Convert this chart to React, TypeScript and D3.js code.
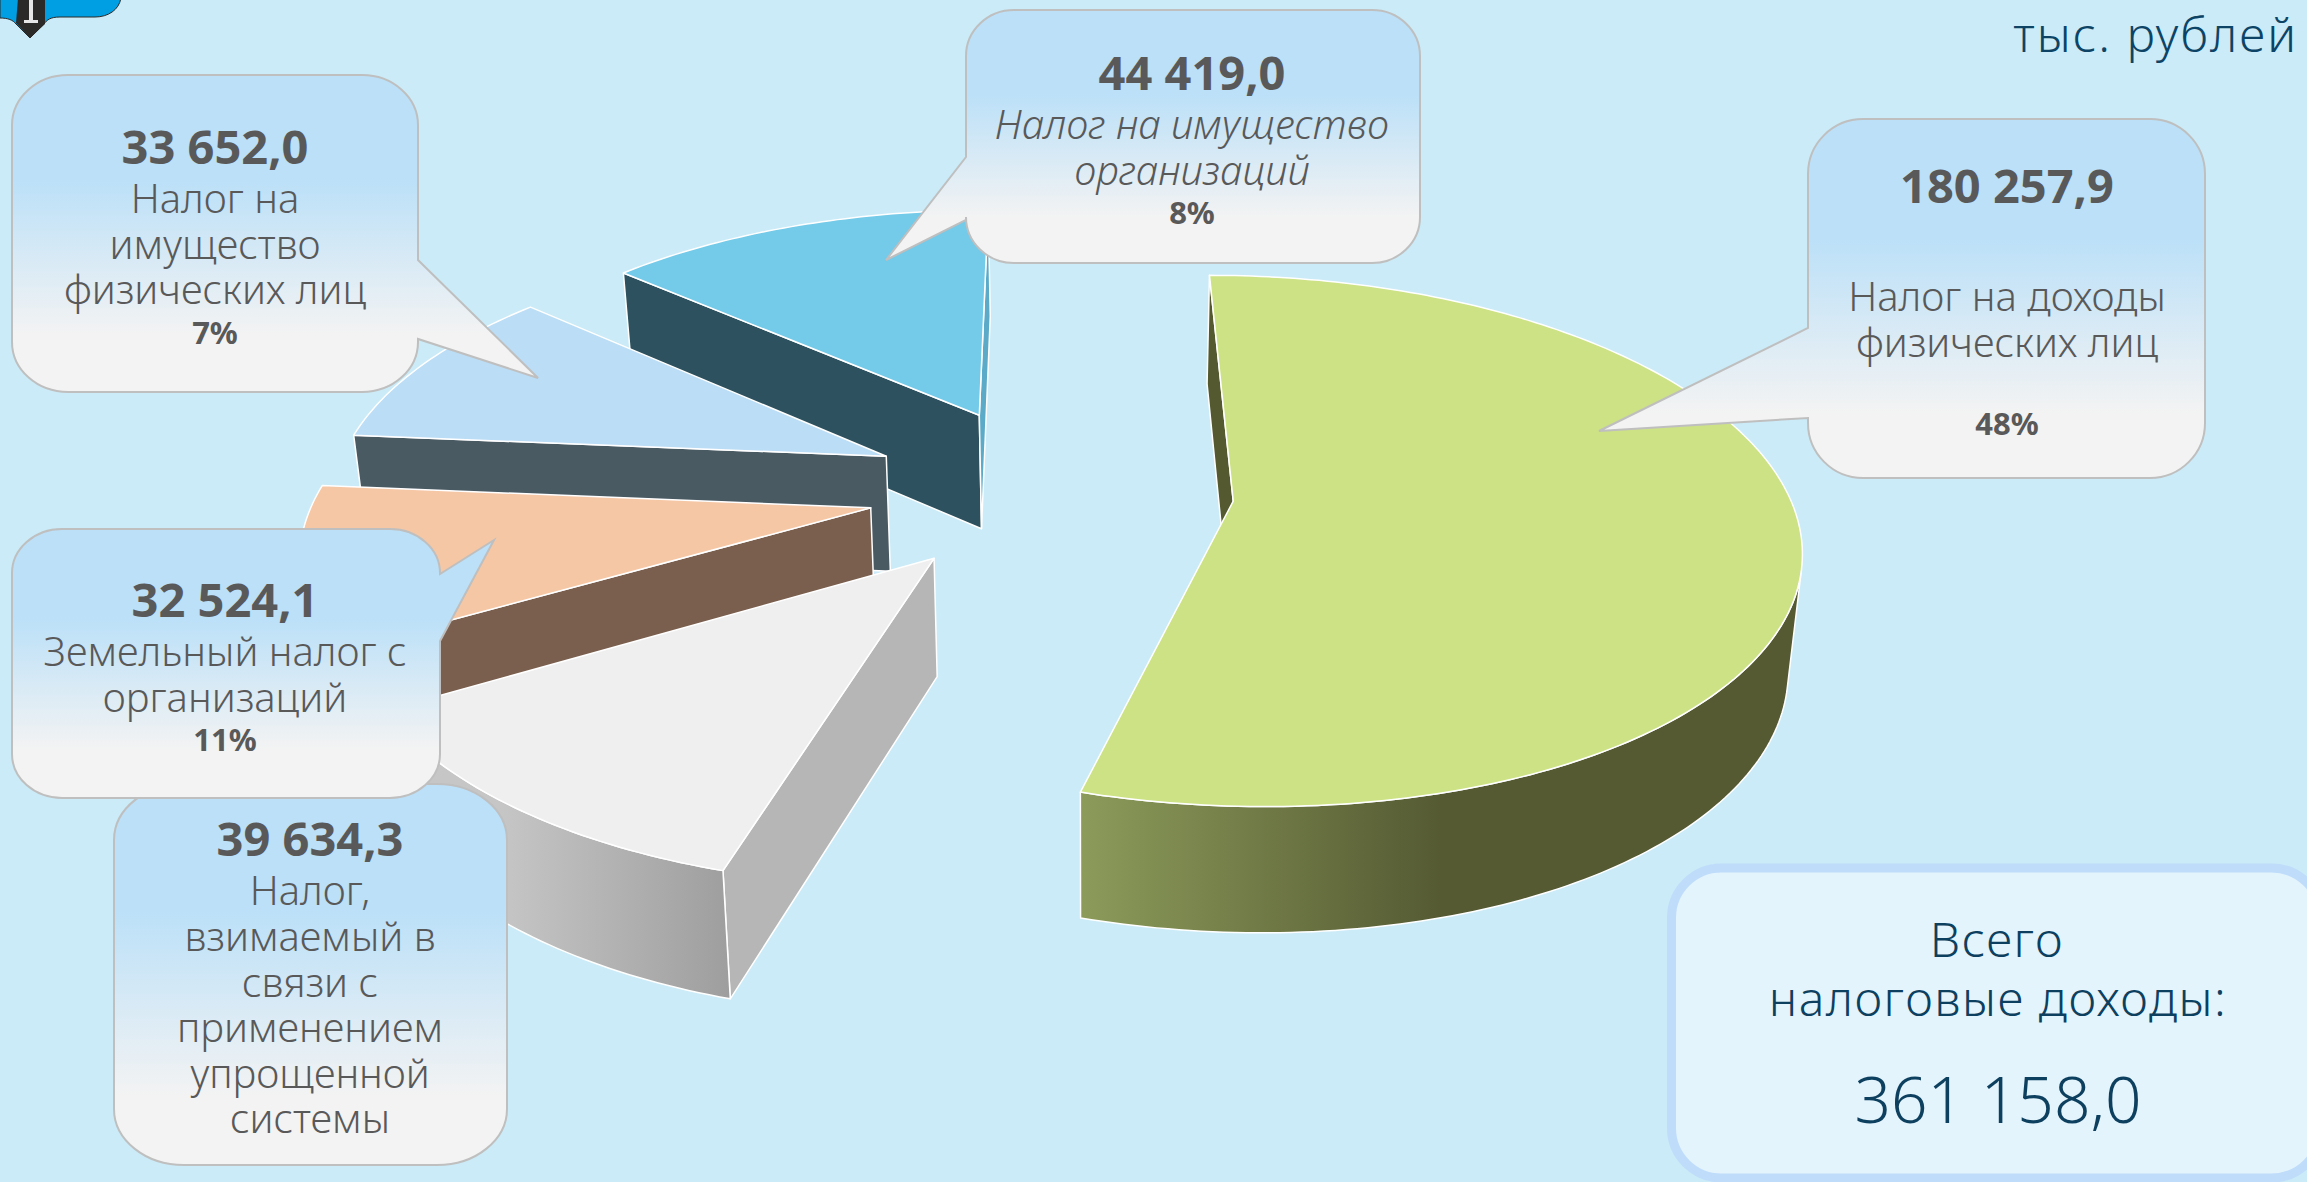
import React from "react";
import * as d3 from "d3";

// ---------- data ----------
const categories = [
  "Налог на доходы физических лиц",
  "Налог, взимаемый в связи с применением упрощенной системы",
  "Земельный налог с организаций",
  "Налог на имущество физических лиц",
  "Налог на имущество организаций",
];
const values = [180257.9, 39634.3, 32524.1, 33652.0, 44419.0];
const valueLabels = ["180 257,9", "39 634,3", "32 524,1", "33 652,0", "44 419,0"];
const percentLabels = ["48%", "", "11%", "7%", "8%"];
const labelLines = [
  ["Налог на доходы", "физических лиц"],
  ["Налог,", "взимаемый в", "связи с", "применением", "упрощенной", "системы"],
  ["Земельный налог с", "организаций"],
  ["Налог на", "имущество", "физических лиц"],
  ["Налог на имущество", "организаций"],
];
const totalLabel = ["Всего", "налоговые доходы:"];
const totalValue = "361 158,0";
const unitLabel = "тыс. рублей";

// ---------- styling ----------
const W = 2307, H = 1182;
const FONT = "'Noto Sans', 'Open Sans', sans-serif";
const topColors = ["#cde284", "#efefef", "#f6c7a5", "#bbddf6", "#73cae9"];
const startWall = ["#54592f", "#b6b6b6", "#7a5f4e", "#4a5a63", "#2d515e"];
const endWall = ["#54592f", "#b6b6b6", "#7a5f4e", "#4a5a63", "#5aaac8"];
const arcFill = ["url(#wallGreen)", "url(#wallGrey)", "#7a5f4e", "#4a5a63", "#2d515e"];
const drawOrder = [4, 3, 2, 1, 0];
const EXPLODE = 0.33;

// perspective of the pie plane
const K = 0.149;
const sx = d3.scaleLinear().domain([-1, 1]).range([1051 - 554, 1051 + 554]);
const sy = d3.scaleLinear().domain([-1, 1]).range([489 + 256, 489 - 256]);
type P = [number, number];
const project = (X: number, Y: number): P => {
  const w = 1 + K * Y;
  return [sx(X / w), sy(Y / w)];
};
const depthOf = (X: number, Y: number, p: P): P => {
  const w = 1 + K * Y;
  return [p[0] + (1090 - p[0]) * 0.02, p[1] + 116 / Math.sqrt(w)];
};
const line = d3.line<P>().x((d) => d[0]).y((d) => d[1]);
const closed = (pts: P[]) => line(pts) + "Z";
const area = (pts: P[]) => {
  let s = 0;
  pts.forEach((p, i) => {
    const q = pts[(i + 1) % pts.length];
    s += p[0] * q[1] - q[0] * p[1];
  });
  return s;
};

const arcs = d3.pie<number>().sort(null).value((d) => d)(values);

function sliceFaces(i: number) {
  const a = arcs[i];
  const mid = (a.startAngle + a.endAngle) / 2;
  const ox = EXPLODE * Math.sin(mid), oy = EXPLODE * Math.cos(mid);
  const n = Math.ceil(((a.endAngle - a.startAngle) * 180) / Math.PI);
  const plane: P[] = d3.range(n + 1).map((k) => {
    const t = a.startAngle + ((a.endAngle - a.startAngle) * k) / n;
    return [ox + Math.sin(t), oy + Math.cos(t)];
  });
  const top = plane.map(([X, Y]) => project(X, Y));
  const bot = plane.map(([X, Y], k) => depthOf(X, Y, top[k]));
  const apex = project(ox, oy);
  const apexB = depthOf(ox, oy, apex);
  const wall = (p: P, q: P, pb: P, qb: P) =>
    area([p, q, qb, pb]) < 0 ? closed([p, q, qb, pb]) : null;
  const faces: { d: string; fill: string }[] = [];
  const sw = wall(apex, top[0], apexB, bot[0]);
  if (sw) faces.push({ d: sw, fill: startWall[i] });
  const ew = wall(top[n], apex, bot[n], apexB);
  if (ew) faces.push({ d: ew, fill: endWall[i] });
  const vis = d3.range(n).filter((k) => area([top[k], top[k + 1], bot[k + 1], bot[k]]) < 0);
  if (vis.length) {
    const f = vis[0], l = vis[vis.length - 1] + 1;
    const t = top.slice(f, l + 1), b = bot.slice(f, l + 1).reverse();
    faces.push({ d: closed([...t, ...b]), fill: arcFill[i] });
  }
  return { faces, top: closed([apex, ...top]) };
}

// ---------- callouts ----------
type Box = { x0: number; x1: number; y0: number; y1: number; rx: number; ry: number; tail?: { side: "left" | "right"; a: number; b: number; tip: P } };
function calloutPath({ x0, x1, y0, y1, rx, ry, tail }: Box) {
  let d = `M${x0 + rx},${y0}H${x1 - rx}A${rx},${ry} 0 0 1 ${x1},${y0 + ry}`;
  if (tail && tail.side === "right") d += `V${tail.a}L${tail.tip[0]},${tail.tip[1]}L${x1},${tail.b}`;
  d += `V${y1 - ry}A${rx},${ry} 0 0 1 ${x1 - rx},${y1}H${x0 + rx}A${rx},${ry} 0 0 1 ${x0},${y1 - ry}`;
  if (tail && tail.side === "left") d += `V${tail.b}L${tail.tip[0]},${tail.tip[1]}L${x0},${tail.a}`;
  d += `V${y0 + ry}A${rx},${ry} 0 0 1 ${x0 + rx},${y0}Z`;
  return d;
}

type TextSet = { cx: number; value: number; lines: number[]; pct?: number; italic?: boolean };
const boxes: Box[] = [
  { x0: 1808, x1: 2205, y0: 119, y1: 478, rx: 55, ry: 55, tail: { side: "left", a: 328, b: 418, tip: [1599, 431] } },
  { x0: 114, x1: 507, y0: 784, y1: 1165, rx: 70, ry: 56 },
  { x0: 12, x1: 440, y0: 529, y1: 798, rx: 50, ry: 44, tail: { side: "right", a: 574, b: 641, tip: [494, 540] } },
  { x0: 12, x1: 418, y0: 75, y1: 392, rx: 56, ry: 50, tail: { side: "right", a: 260, b: 339, tip: [538, 378] } },
  { x0: 966, x1: 1420, y0: 10, y1: 263, rx: 48, ry: 46, tail: { side: "left", a: 157, b: 220, tip: [886, 260] } },
];
const texts: TextSet[] = [
  { cx: 2007, value: 203, lines: [311, 357], pct: 435 },
  { cx: 310, value: 856, lines: [905, 951, 997, 1042, 1088, 1133] },
  { cx: 225, value: 617, lines: [666, 712], pct: 751 },
  { cx: 215, value: 164, lines: [213, 259, 304], pct: 344 },
  { cx: 1192, value: 90, lines: [139, 185], pct: 224, italic: true },
];
const calloutOrder = [0, 4, 3, 1, 2];

const BODY = 40;
const VAL = 47;
const PCT = 31;

export default function App() {
  const faces = drawOrder.map((i) => ({ i, ...sliceFaces(i) }));
  return (
    <svg width={W} height={H} viewBox={`0 0 ${W} ${H}`} style={{ position: "fixed", left: 0, top: 0, display: "block" }} fontFamily={FONT}>
      <defs>
        <linearGradient id="wallGreen" gradientUnits="userSpaceOnUse" x1="1081" x2="1440" y1="0" y2="0">
          <stop offset="0" stopColor="#8c9b5a" />
          <stop offset="1" stopColor="#555a33" />
        </linearGradient>
        <linearGradient id="wallGrey" gradientUnits="userSpaceOnUse" x1="500" x2="730" y1="0" y2="0">
          <stop offset="0" stopColor="#c6c6c6" />
          <stop offset="1" stopColor="#9e9e9e" />
        </linearGradient>
        <linearGradient id="callout" x1="0" x2="0" y1="0" y2="1">
          <stop offset="0" stopColor="#bbe0f8" />
          <stop offset="0.33" stopColor="#bbe0f8" />
          <stop offset="0.82" stopColor="#f3f3f3" />
          <stop offset="1" stopColor="#f3f3f3" />
        </linearGradient>
      </defs>
      <rect width={W} height={H} fill="#caebf7" />

      <g>
        <path d="M0,-2H121C119,10 108,17 95,17H60C50,17 47,20 44,24L30,38L16,24C13,20 8,18 0,18Z" fill="#009fe3" stroke="#2b2a29" strokeWidth={1} />
        <path d="M18,-2H45V24L30,38L16,23Z" fill="#2b2a29" />
        <path d="M29,-2H33V20H38V23H24V20H29Z" fill="#e6e6e6" />
      </g>

      {faces.map(({ i, faces: fs, top }) => (
        <g key={categories[i]}>
          {fs.map((f, k) => (
            <path key={k} d={f.d} fill={f.fill} stroke="#ffffff" strokeWidth={1.5} strokeLinejoin="round" />
          ))}
          <path d={top} fill={topColors[i]} stroke="#ffffff" strokeWidth={1.5} strokeLinejoin="round" />
        </g>
      ))}

      {calloutOrder.map((i) => {
        const t = texts[i];
        return (
          <g key={i} textAnchor="middle" fill="#595959">
            <path d={calloutPath(boxes[i])} fill="url(#callout)" stroke="#bfbfbf" strokeWidth={2} />
            <text x={t.cx} y={t.value} fontSize={VAL} fontWeight={700}>{valueLabels[i]}</text>
            {labelLines[i].map((s, k) => (
              <text key={k} x={t.cx} y={t.lines[k]} fontSize={BODY} fontWeight={300} fontStyle={t.italic ? "italic" : "normal"}>{s}</text>
            ))}
            {t.pct && <text x={t.cx} y={t.pct} fontSize={PCT} fontWeight={700}>{percentLabels[i]}</text>}
          </g>
        );
      })}

      <rect x={1671.5} y={868} width={650} height={310} rx={50} ry={50} fill="#e3f4fc" stroke="#bfdcfa" strokeWidth={9} />
      <g textAnchor="middle" fill="#0d3f5f" fontWeight={300}>
        <text x={1997} y={957} fontSize={48} letterSpacing={1.5}>{totalLabel[0]}</text>
        <text x={1998} y={1016} fontSize={48} letterSpacing={1.5}>{totalLabel[1]}</text>
        <text x={1998} y={1123} fontSize={64}>{totalValue}</text>
      </g>
      <text x={2298} y={52} textAnchor="end" fontSize={48} fontWeight={300} letterSpacing={2} fill="#0d4466">{unitLabel}</text>
    </svg>
  );
}
